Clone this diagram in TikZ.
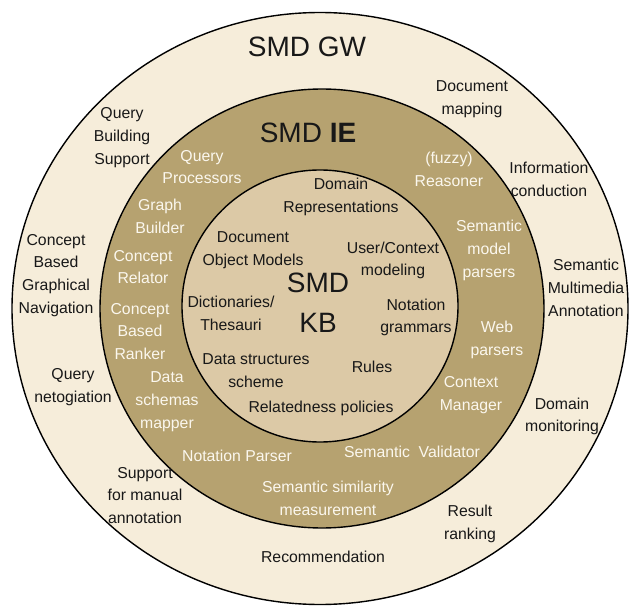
\documentclass[tikz,border=0pt]{standalone}
\usepackage{fontspec}
\setmainfont{Liberation Sans}
\definecolor{gwfill}{RGB}{246,237,218}
\definecolor{iefill}{RGB}{182,162,112}
\definecolor{kbfill}{RGB}{220,201,166}
\definecolor{ink}{RGB}{24,24,24}
\definecolor{paleink}{RGB}{251,247,238}
\begin{document}
\begin{tikzpicture}[x=1pt,y=-1pt,
  ring/.style={draw=black,line width=1.4pt},
  lbl/.style={align=center,inner sep=0pt,yshift=-1.5pt,font=\fontsize{15.8}{22.8}\selectfont},
  darklbl/.style={lbl,text=ink},
  lightlbl/.style={lbl,text=paleink},
  layertitle/.style={align=center,inner sep=0pt,text=ink,font=\fontsize{28}{30}\selectfont}]
\useasboundingbox (0,0) rectangle (630,607);
\fill[white] (0,0) rectangle (630,607);

% three nested layers
\draw[ring,fill=gwfill] (320,308.5) ellipse [x radius=308pt, y radius=296pt];
\draw[ring,fill=iefill] (322,308.5) ellipse [x radius=222pt, y radius=219.5pt];
\draw[ring,fill=kbfill] (320,306) ellipse [x radius=138pt, y radius=136pt];

% outer layer: SMD GW
\node[layertitle] (gw) at (307,47) {SMD GW};
\node[darklbl] (qbs) at (122,136) {Query\\Building\\Support};
\node[darklbl] (docmap) at (472,97.5) {Document\\mapping};
\node[darklbl] (infocond) at (549,177.5) {Information\\conduction};
\node[darklbl] (cbgn) at (56,274) {Concept\\Based\\Graphical\\Navigation};
\node[darklbl] (sma) at (586,286.5) {Semantic\\Multimedia\\Annotation};
\node[darklbl] (qneg) at (73,385.5) {Query\\netogiation};
\node[darklbl] (dommon) at (562,415) {Domain\\monitoring};
\node[darklbl] (sma2) at (145,494) {Support\\for manual\\annotation};
\node[darklbl] (rank) at (470,522.5) {Result\\ranking};
\node[darklbl] (recom) at (323,555) {Recommendation};

% middle layer: SMD IE
\node[layertitle] (ie) at (308,133) {SMD \textbf{IE}};
\node[lightlbl] (qproc) at (202,165.5) {Query\\Processors};
\node[lightlbl] (reason) at (449,168) {(fuzzy)\\Reasoner};
\node[lightlbl] (graph) at (160,214.5) {Graph\\Builder};
\node[lightlbl] (relator) at (143,265.5) {Concept\\Relator};
\node[lightlbl] (smp) at (489,249) {Semantic\\model\\parsers};
\node[lightlbl] (ranker) at (140,330) {Concept\\Based\\Ranker};
\node[lightlbl] (web) at (497,338.5) {Web\\parsers};
\node[lightlbl] (dsm) at (167,400.5) {Data\\schemas\\mapper};
\node[lightlbl] (ctx) at (471,393.5) {Context\\Manager};
\node[lightlbl] (notparse) at (237,454) {Notation Parser};
\node[lightlbl] (semval) at (412,450) {Semantic\hspace{0.55em}Validator};
\node[lightlbl] (semsim) at (328,496.5) {Semantic similarity\\measurement};

% inner layer: SMD KB
\node[layertitle] (kb) at (318,303) {SMD\\[10pt]KB};
\node[darklbl] (domrep) at (341,195.5) {Domain\\Representations};
\node[darklbl] (dom) at (253,249) {Document\\Object Models};
\node[darklbl] (ucm) at (393,259) {User/Context\\modeling};
\node[darklbl] (dict) at (231,311.5) {Dictionaries/\\Thesauri};
\node[darklbl] (notgram) at (416,316) {Notation\\grammars};
\node[darklbl] (dss) at (256,369.5) {Data structures\\scheme};
\node[darklbl] (rules) at (372,365) {Rules};
\node[darklbl] (relpol) at (321,407) {Relatedness policies};
\end{tikzpicture}
\end{document}
